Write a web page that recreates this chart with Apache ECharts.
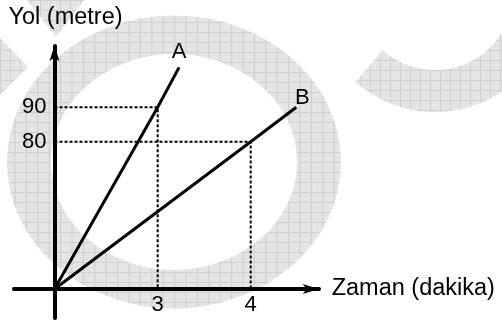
<!DOCTYPE html>
<html>
<head>
<meta charset="utf-8">
<script src="https://cdn.jsdelivr.net/npm/echarts@6/dist/echarts.min.js"></script>
<style>
  html, body { margin: 0; padding: 0; background: #fff; }
  #chart { width: 502px; height: 320px; }
</style>
</head>
<body>
<div id="chart"></div>
<script>
// values (schematic, not to scale)
const xTicks = [3, 4];
const yTicks = [80, 90];
const lineA = [[0, 0], [3, 90], [3.23, 101.6]];
const lineB = [[0, 0], [4, 80], [4.49, 90]];
const guideA = [[0, 90], [3, 90], [3, 0]];
const guideB = [[0, 80], [4, 80], [4, 0]];
const names = ['A', 'B'];

const FONT = 'Liberation Sans, Arial, sans-serif';

// light grid tile for the watermark shapes
const tile = document.createElement('canvas');
tile.width = 10; tile.height = 10;
const tc = tile.getContext('2d');
tc.fillStyle = '#e5e5e5';
tc.fillRect(0, 0, 10, 10);
tc.fillStyle = '#d0d0d0';
tc.fillRect(0, 0, 10, 1);
tc.fillRect(0, 0, 1, 10);
const wmFill = { image: tile, repeat: 'repeat' };

function withLabel(data, text, label) {
  return data.map(function (p, i) {
    if (i !== data.length - 1) return p;
    return {
      value: p,
      label: Object.assign({ show: true, formatter: text, color: '#000', fontSize: 22, fontFamily: FONT }, label)
    };
  });
}

const chart = echarts.init(document.getElementById('chart'), null, { renderer: 'canvas' });

chart.setOption({
  animation: false,
  backgroundColor: '#fff',
  textStyle: { fontFamily: FONT, color: '#000' },
  graphic: {
    elements: [
      { type: 'ring', silent: true, z: -10, x: 174, y: 162, scaleX: 1.14,
        shape: { cx: 0, cy: 0, r: 146.5, r0: 108 }, style: { fill: wmFill } },
      { type: 'sector', silent: true, z: -10,
        shape: { cx: 435, cy: -9, r0: 79, r: 121, startAngle: -0.6, endAngle: 2.29, clockwise: true },
        style: { fill: wmFill } },
      { type: 'polygon', silent: true, z: -10,
        shape: { points: [[0, 38], [28, 67], [0, 95]] }, style: { fill: wmFill } },
      { type: 'polygon', silent: true, z: -10,
        shape: { points: [[27, 0], [84, 0], [56, 37]] }, style: { fill: wmFill } }
    ]
  },
  grid: { left: 14, right: 183.3, top: 45.3, bottom: 2, containLabel: false, outerBoundsMode: 'none' },
  xAxis: {
    type: 'value',
    min: -0.4355,
    max: 4.731,
    offset: -29,
    breaks: [{ start: 0.5535, end: 2.4455, gap: 0.001 }],
    breakArea: { show: false, itemStyle: { opacity: 0 } },
    name: 'Zaman (dakika)',
    nameLocation: 'end',
    nameGap: 13,
    nameTextStyle: { fontSize: 23.5, color: '#000', fontFamily: FONT, padding: [0, 0, 11, 0] },
    axisLine: { onZero: false, symbol: ['none', 'arrow'], symbolSize: [7.5, 16], lineStyle: { color: '#000', width: 4 } },
    axisTick: { show: false },
    splitLine: { show: false },
    axisLabel: { customValues: xTicks, margin: 5, fontSize: 22, color: '#000', fontFamily: FONT }
  },
  yAxis: {
    type: 'value',
    min: -8.43,
    max: 108.02,
    offset: -40.5,
    breaks: [{ start: 21.4, end: 58.6, gap: 0.01 }],
    breakArea: { show: false, itemStyle: { opacity: 0 } },
    name: 'Yol (metre)',
    nameLocation: 'end',
    nameGap: 16,
    nameTextStyle: { fontSize: 23.5, color: '#000', fontFamily: FONT, padding: [0, 0, 0, 22] },
    axisLine: { onZero: false, symbol: ['none', 'arrow'], symbolSize: [7.5, 16], lineStyle: { color: '#000', width: 4 } },
    axisTick: { show: false },
    splitLine: { show: false },
    axisLabel: { customValues: yTicks, margin: 8, fontSize: 22, color: '#000', fontFamily: FONT }
  },
  series: [
    { type: 'line', data: guideA, symbol: 'none', silent: true,
      lineStyle: { color: '#000', width: 2, type: [3, 2] } },
    { type: 'line', data: guideB, symbol: 'none', silent: true,
      lineStyle: { color: '#000', width: 2, type: [3, 2] } },
    { type: 'line', name: names[0], silent: true, symbol: 'circle', symbolSize: 0.01, showSymbol: true,
      itemStyle: { color: 'rgba(0,0,0,0)' },
      data: withLabel(lineA, names[0], { position: 'top', distance: 4 }),
      lineStyle: { color: '#000', width: 3 } },
    { type: 'line', name: names[1], silent: true, symbol: 'circle', symbolSize: 0.01, showSymbol: true,
      itemStyle: { color: 'rgba(0,0,0,0)' },
      data: withLabel(lineB, names[1], { position: 'top', distance: 0, offset: [6, 2] }),
      lineStyle: { color: '#000', width: 3 } }
  ]
});
</script>
</body>
</html>
